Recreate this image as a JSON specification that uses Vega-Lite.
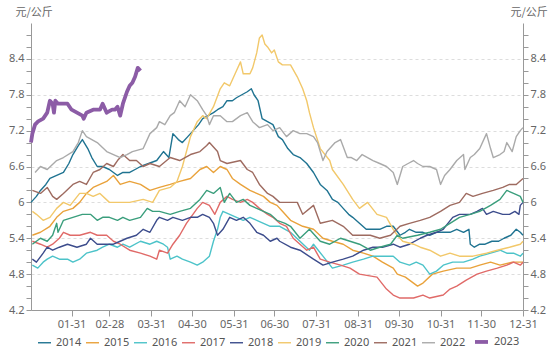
{
"$schema":"https://vega.github.io/schema/vega-lite/v6.json",
"width":492,"height":287,
"autosize":{"type":"none"},
"padding":{"left":31,"top":23,"right":27,"bottom":39},
"config":{"view":{"stroke":null},"font":"Noto Sans","axis":{"labelFont":"Noto Sans","titleFont":"Noto Sans CJK SC"}},
"data":{"values":[
{"t":"2023-01-01","s":"2014","v":6.0},{"t":"2023-01-05","s":"2014","v":6.1},{"t":"2023-01-08","s":"2014","v":6.2},{"t":"2023-01-12","s":"2014","v":6.3},{"t":"2023-01-15","s":"2014","v":6.4},{"t":"2023-01-20","s":"2014","v":6.45},{"t":"2023-01-25","s":"2014","v":6.5},{"t":"2023-01-29","s":"2014","v":6.65},{"t":"2023-02-01","s":"2014","v":6.8},{"t":"2023-02-05","s":"2014","v":6.95},{"t":"2023-02-08","s":"2014","v":7.05},{"t":"2023-02-12","s":"2014","v":6.9},{"t":"2023-02-15","s":"2014","v":6.75},{"t":"2023-02-19","s":"2014","v":6.6},{"t":"2023-02-23","s":"2014","v":6.6},{"t":"2023-02-28","s":"2014","v":6.55},{"t":"2023-03-06","s":"2014","v":6.45},{"t":"2023-03-10","s":"2014","v":6.5},{"t":"2023-03-15","s":"2014","v":6.5},{"t":"2023-03-19","s":"2014","v":6.55},{"t":"2023-03-23","s":"2014","v":6.6},{"t":"2023-03-29","s":"2014","v":6.65},{"t":"2023-04-04","s":"2014","v":6.7},{"t":"2023-04-09","s":"2014","v":6.85},{"t":"2023-04-13","s":"2014","v":6.75},{"t":"2023-04-16","s":"2014","v":7.15},{"t":"2023-04-20","s":"2014","v":7.05},{"t":"2023-04-23","s":"2014","v":7.0},{"t":"2023-04-27","s":"2014","v":7.1},{"t":"2023-05-01","s":"2014","v":7.2},{"t":"2023-05-05","s":"2014","v":7.3},{"t":"2023-05-08","s":"2014","v":7.4},{"t":"2023-05-12","s":"2014","v":7.45},{"t":"2023-05-16","s":"2014","v":7.5},{"t":"2023-05-19","s":"2014","v":7.55},{"t":"2023-05-23","s":"2014","v":7.6},{"t":"2023-05-26","s":"2014","v":7.7},{"t":"2023-05-30","s":"2014","v":7.7},{"t":"2023-06-02","s":"2014","v":7.75},{"t":"2023-06-06","s":"2014","v":7.8},{"t":"2023-06-10","s":"2014","v":7.85},{"t":"2023-06-13","s":"2014","v":7.9},{"t":"2023-06-15","s":"2014","v":7.8},{"t":"2023-06-18","s":"2014","v":7.7},{"t":"2023-06-21","s":"2014","v":7.4},{"t":"2023-06-25","s":"2014","v":7.35},{"t":"2023-06-29","s":"2014","v":7.3},{"t":"2023-07-03","s":"2014","v":7.1},{"t":"2023-07-06","s":"2014","v":7.05},{"t":"2023-07-10","s":"2014","v":6.9},{"t":"2023-07-14","s":"2014","v":6.8},{"t":"2023-07-19","s":"2014","v":6.75},{"t":"2023-07-24","s":"2014","v":6.65},{"t":"2023-07-29","s":"2014","v":6.5},{"t":"2023-08-03","s":"2014","v":6.3},{"t":"2023-08-08","s":"2014","v":6.2},{"t":"2023-08-12","s":"2014","v":6.05},{"t":"2023-08-16","s":"2014","v":6.0},{"t":"2023-08-20","s":"2014","v":5.9},{"t":"2023-08-24","s":"2014","v":5.8},{"t":"2023-08-27","s":"2014","v":5.75},{"t":"2023-09-01","s":"2014","v":5.65},{"t":"2023-09-06","s":"2014","v":5.55},{"t":"2023-09-11","s":"2014","v":5.55},{"t":"2023-09-16","s":"2014","v":5.55},{"t":"2023-09-21","s":"2014","v":5.6},{"t":"2023-09-26","s":"2014","v":5.6},{"t":"2023-10-01","s":"2014","v":5.45},{"t":"2023-10-05","s":"2014","v":5.5},{"t":"2023-10-08","s":"2014","v":5.55},{"t":"2023-10-13","s":"2014","v":5.5},{"t":"2023-10-18","s":"2014","v":5.5},{"t":"2023-10-23","s":"2014","v":5.45},{"t":"2023-10-28","s":"2014","v":5.5},{"t":"2023-11-02","s":"2014","v":5.5},{"t":"2023-11-07","s":"2014","v":5.5},{"t":"2023-11-12","s":"2014","v":5.55},{"t":"2023-11-17","s":"2014","v":5.5},{"t":"2023-11-21","s":"2014","v":5.55},{"t":"2023-11-22","s":"2014","v":5.3},{"t":"2023-11-25","s":"2014","v":5.25},{"t":"2023-11-29","s":"2014","v":5.3},{"t":"2023-12-03","s":"2014","v":5.3},{"t":"2023-12-08","s":"2014","v":5.35},{"t":"2023-12-13","s":"2014","v":5.35},{"t":"2023-12-17","s":"2014","v":5.4},{"t":"2023-12-22","s":"2014","v":5.45},{"t":"2023-12-26","s":"2014","v":5.55},{"t":"2023-12-29","s":"2014","v":5.5},{"t":"2023-12-31","s":"2014","v":5.45},
{"t":"2023-01-02","s":"2015","v":5.45},{"t":"2023-01-08","s":"2015","v":5.5},{"t":"2023-01-15","s":"2015","v":5.6},{"t":"2023-01-20","s":"2015","v":5.75},{"t":"2023-01-25","s":"2015","v":5.85},{"t":"2023-02-01","s":"2015","v":5.9},{"t":"2023-02-06","s":"2015","v":6.0},{"t":"2023-02-11","s":"2015","v":6.15},{"t":"2023-02-16","s":"2015","v":6.25},{"t":"2023-02-21","s":"2015","v":6.3},{"t":"2023-02-26","s":"2015","v":6.35},{"t":"2023-03-03","s":"2015","v":6.45},{"t":"2023-03-08","s":"2015","v":6.3},{"t":"2023-03-15","s":"2015","v":6.35},{"t":"2023-03-23","s":"2015","v":6.3},{"t":"2023-03-30","s":"2015","v":6.2},{"t":"2023-04-06","s":"2015","v":6.25},{"t":"2023-04-14","s":"2015","v":6.3},{"t":"2023-04-21","s":"2015","v":6.35},{"t":"2023-04-29","s":"2015","v":6.4},{"t":"2023-05-06","s":"2015","v":6.55},{"t":"2023-05-11","s":"2015","v":6.6},{"t":"2023-05-16","s":"2015","v":6.5},{"t":"2023-05-21","s":"2015","v":6.6},{"t":"2023-05-26","s":"2015","v":6.55},{"t":"2023-05-30","s":"2015","v":6.4},{"t":"2023-06-05","s":"2015","v":6.3},{"t":"2023-06-12","s":"2015","v":6.2},{"t":"2023-06-17","s":"2015","v":6.15},{"t":"2023-06-22","s":"2015","v":6.1},{"t":"2023-06-27","s":"2015","v":6.0},{"t":"2023-07-02","s":"2015","v":5.95},{"t":"2023-07-06","s":"2015","v":5.85},{"t":"2023-07-12","s":"2015","v":5.7},{"t":"2023-07-21","s":"2015","v":5.6},{"t":"2023-07-29","s":"2015","v":5.55},{"t":"2023-08-05","s":"2015","v":5.4},{"t":"2023-08-12","s":"2015","v":5.35},{"t":"2023-08-20","s":"2015","v":5.3},{"t":"2023-08-27","s":"2015","v":5.2},{"t":"2023-09-04","s":"2015","v":5.15},{"t":"2023-09-11","s":"2015","v":5.1},{"t":"2023-09-18","s":"2015","v":5.0},{"t":"2023-09-26","s":"2015","v":4.9},{"t":"2023-09-29","s":"2015","v":4.8},{"t":"2023-10-05","s":"2015","v":4.75},{"t":"2023-10-08","s":"2015","v":4.7},{"t":"2023-10-14","s":"2015","v":4.6},{"t":"2023-10-18","s":"2015","v":4.65},{"t":"2023-10-25","s":"2015","v":4.8},{"t":"2023-11-02","s":"2015","v":4.85},{"t":"2023-11-12","s":"2015","v":4.9},{"t":"2023-11-22","s":"2015","v":4.9},{"t":"2023-11-29","s":"2015","v":4.95},{"t":"2023-12-07","s":"2015","v":5.0},{"t":"2023-12-14","s":"2015","v":4.95},{"t":"2023-12-23","s":"2015","v":5.0},{"t":"2023-12-31","s":"2015","v":5.0},
{"t":"2023-01-02","s":"2016","v":4.95},{"t":"2023-01-06","s":"2016","v":4.9},{"t":"2023-01-10","s":"2016","v":5.0},{"t":"2023-01-13","s":"2016","v":5.05},{"t":"2023-01-17","s":"2016","v":5.1},{"t":"2023-01-22","s":"2016","v":5.05},{"t":"2023-01-28","s":"2016","v":5.05},{"t":"2023-02-01","s":"2016","v":5.0},{"t":"2023-02-06","s":"2016","v":5.05},{"t":"2023-02-11","s":"2016","v":5.15},{"t":"2023-02-19","s":"2016","v":5.2},{"t":"2023-02-23","s":"2016","v":5.25},{"t":"2023-02-28","s":"2016","v":5.3},{"t":"2023-03-06","s":"2016","v":5.25},{"t":"2023-03-10","s":"2016","v":5.3},{"t":"2023-03-15","s":"2016","v":5.25},{"t":"2023-03-23","s":"2016","v":5.35},{"t":"2023-03-30","s":"2016","v":5.3},{"t":"2023-04-04","s":"2016","v":5.35},{"t":"2023-04-09","s":"2016","v":5.3},{"t":"2023-04-12","s":"2016","v":5.25},{"t":"2023-04-14","s":"2016","v":5.05},{"t":"2023-04-19","s":"2016","v":5.1},{"t":"2023-04-23","s":"2016","v":5.05},{"t":"2023-04-29","s":"2016","v":5.0},{"t":"2023-05-04","s":"2016","v":4.95},{"t":"2023-05-08","s":"2016","v":5.0},{"t":"2023-05-13","s":"2016","v":5.1},{"t":"2023-05-16","s":"2016","v":5.35},{"t":"2023-05-19","s":"2016","v":5.55},{"t":"2023-05-21","s":"2016","v":5.75},{"t":"2023-05-23","s":"2016","v":5.85},{"t":"2023-05-28","s":"2016","v":5.8},{"t":"2023-06-02","s":"2016","v":5.75},{"t":"2023-06-07","s":"2016","v":5.7},{"t":"2023-06-12","s":"2016","v":5.75},{"t":"2023-06-17","s":"2016","v":5.7},{"t":"2023-06-22","s":"2016","v":5.65},{"t":"2023-06-27","s":"2016","v":5.6},{"t":"2023-07-04","s":"2016","v":5.6},{"t":"2023-07-12","s":"2016","v":5.5},{"t":"2023-07-19","s":"2016","v":5.35},{"t":"2023-07-26","s":"2016","v":5.2},{"t":"2023-07-29","s":"2016","v":5.3},{"t":"2023-08-05","s":"2016","v":5.1},{"t":"2023-08-12","s":"2016","v":4.9},{"t":"2023-08-20","s":"2016","v":4.95},{"t":"2023-08-27","s":"2016","v":5.0},{"t":"2023-09-04","s":"2016","v":5.05},{"t":"2023-09-11","s":"2016","v":5.1},{"t":"2023-09-18","s":"2016","v":5.1},{"t":"2023-09-26","s":"2016","v":5.1},{"t":"2023-10-01","s":"2016","v":5.0},{"t":"2023-10-08","s":"2016","v":4.95},{"t":"2023-10-13","s":"2016","v":5.0},{"t":"2023-10-18","s":"2016","v":4.95},{"t":"2023-10-23","s":"2016","v":4.8},{"t":"2023-10-28","s":"2016","v":4.85},{"t":"2023-11-02","s":"2016","v":4.95},{"t":"2023-11-09","s":"2016","v":5.0},{"t":"2023-11-17","s":"2016","v":5.0},{"t":"2023-11-24","s":"2016","v":5.05},{"t":"2023-11-29","s":"2016","v":5.1},{"t":"2023-12-07","s":"2016","v":5.15},{"t":"2023-12-14","s":"2016","v":5.2},{"t":"2023-12-19","s":"2016","v":5.15},{"t":"2023-12-24","s":"2016","v":5.15},{"t":"2023-12-29","s":"2016","v":5.1},{"t":"2023-12-31","s":"2016","v":5.15},
{"t":"2023-01-02","s":"2017","v":5.35},{"t":"2023-01-08","s":"2017","v":5.3},{"t":"2023-01-13","s":"2017","v":5.25},{"t":"2023-01-17","s":"2017","v":5.3},{"t":"2023-01-22","s":"2017","v":5.4},{"t":"2023-01-25","s":"2017","v":5.5},{"t":"2023-01-30","s":"2017","v":5.45},{"t":"2023-02-06","s":"2017","v":5.45},{"t":"2023-02-14","s":"2017","v":5.5},{"t":"2023-02-19","s":"2017","v":5.45},{"t":"2023-02-26","s":"2017","v":5.45},{"t":"2023-03-03","s":"2017","v":5.35},{"t":"2023-03-08","s":"2017","v":5.3},{"t":"2023-03-15","s":"2017","v":5.2},{"t":"2023-03-23","s":"2017","v":5.15},{"t":"2023-03-30","s":"2017","v":5.1},{"t":"2023-04-04","s":"2017","v":5.05},{"t":"2023-04-06","s":"2017","v":5.2},{"t":"2023-04-12","s":"2017","v":5.15},{"t":"2023-04-16","s":"2017","v":5.3},{"t":"2023-04-21","s":"2017","v":5.45},{"t":"2023-04-26","s":"2017","v":5.65},{"t":"2023-05-04","s":"2017","v":5.9},{"t":"2023-05-08","s":"2017","v":6.0},{"t":"2023-05-13","s":"2017","v":5.95},{"t":"2023-05-17","s":"2017","v":5.8},{"t":"2023-05-21","s":"2017","v":6.0},{"t":"2023-05-26","s":"2017","v":6.1},{"t":"2023-05-30","s":"2017","v":6.05},{"t":"2023-06-05","s":"2017","v":6.0},{"t":"2023-06-10","s":"2017","v":6.05},{"t":"2023-06-14","s":"2017","v":6.0},{"t":"2023-06-19","s":"2017","v":5.9},{"t":"2023-06-25","s":"2017","v":5.8},{"t":"2023-06-29","s":"2017","v":5.75},{"t":"2023-07-04","s":"2017","v":5.65},{"t":"2023-07-09","s":"2017","v":5.6},{"t":"2023-07-14","s":"2017","v":5.4},{"t":"2023-07-19","s":"2017","v":5.3},{"t":"2023-07-24","s":"2017","v":5.2},{"t":"2023-07-29","s":"2017","v":5.25},{"t":"2023-08-03","s":"2017","v":5.05},{"t":"2023-08-10","s":"2017","v":5.0},{"t":"2023-08-18","s":"2017","v":4.95},{"t":"2023-08-25","s":"2017","v":4.9},{"t":"2023-09-01","s":"2017","v":4.8},{"t":"2023-09-14","s":"2017","v":4.75},{"t":"2023-09-21","s":"2017","v":4.55},{"t":"2023-09-26","s":"2017","v":4.45},{"t":"2023-10-01","s":"2017","v":4.4},{"t":"2023-10-11","s":"2017","v":4.4},{"t":"2023-10-18","s":"2017","v":4.45},{"t":"2023-10-23","s":"2017","v":4.4},{"t":"2023-11-02","s":"2017","v":4.45},{"t":"2023-11-07","s":"2017","v":4.55},{"t":"2023-11-12","s":"2017","v":4.6},{"t":"2023-11-19","s":"2017","v":4.7},{"t":"2023-11-27","s":"2017","v":4.8},{"t":"2023-12-04","s":"2017","v":4.85},{"t":"2023-12-12","s":"2017","v":4.9},{"t":"2023-12-19","s":"2017","v":4.95},{"t":"2023-12-24","s":"2017","v":5.0},{"t":"2023-12-29","s":"2017","v":4.95},{"t":"2023-12-31","s":"2017","v":5.0},
{"t":"2023-01-02","s":"2018","v":5.05},{"t":"2023-01-05","s":"2018","v":5.0},{"t":"2023-01-10","s":"2018","v":5.15},{"t":"2023-01-13","s":"2018","v":5.25},{"t":"2023-01-17","s":"2018","v":5.2},{"t":"2023-01-22","s":"2018","v":5.25},{"t":"2023-01-28","s":"2018","v":5.3},{"t":"2023-02-04","s":"2018","v":5.25},{"t":"2023-02-11","s":"2018","v":5.3},{"t":"2023-02-14","s":"2018","v":5.4},{"t":"2023-02-19","s":"2018","v":5.3},{"t":"2023-02-23","s":"2018","v":5.3},{"t":"2023-03-03","s":"2018","v":5.3},{"t":"2023-03-08","s":"2018","v":5.35},{"t":"2023-03-13","s":"2018","v":5.4},{"t":"2023-03-20","s":"2018","v":5.45},{"t":"2023-03-25","s":"2018","v":5.55},{"t":"2023-03-30","s":"2018","v":5.5},{"t":"2023-04-04","s":"2018","v":5.7},{"t":"2023-04-06","s":"2018","v":5.75},{"t":"2023-04-12","s":"2018","v":5.7},{"t":"2023-04-16","s":"2018","v":5.75},{"t":"2023-04-23","s":"2018","v":5.7},{"t":"2023-04-29","s":"2018","v":5.75},{"t":"2023-05-04","s":"2018","v":5.75},{"t":"2023-05-08","s":"2018","v":5.8},{"t":"2023-05-13","s":"2018","v":5.75},{"t":"2023-05-16","s":"2018","v":5.65},{"t":"2023-05-19","s":"2018","v":5.45},{"t":"2023-05-23","s":"2018","v":5.55},{"t":"2023-05-28","s":"2018","v":5.75},{"t":"2023-06-02","s":"2018","v":5.7},{"t":"2023-06-07","s":"2018","v":5.75},{"t":"2023-06-12","s":"2018","v":5.65},{"t":"2023-06-17","s":"2018","v":5.5},{"t":"2023-06-22","s":"2018","v":5.45},{"t":"2023-06-27","s":"2018","v":5.35},{"t":"2023-07-02","s":"2018","v":5.4},{"t":"2023-07-04","s":"2018","v":5.35},{"t":"2023-07-12","s":"2018","v":5.25},{"t":"2023-07-19","s":"2018","v":5.2},{"t":"2023-07-29","s":"2018","v":5.05},{"t":"2023-08-05","s":"2018","v":4.95},{"t":"2023-08-12","s":"2018","v":5.0},{"t":"2023-08-20","s":"2018","v":5.05},{"t":"2023-08-27","s":"2018","v":5.1},{"t":"2023-09-04","s":"2018","v":5.2},{"t":"2023-09-11","s":"2018","v":5.25},{"t":"2023-09-18","s":"2018","v":5.25},{"t":"2023-09-26","s":"2018","v":5.3},{"t":"2023-10-01","s":"2018","v":5.25},{"t":"2023-10-08","s":"2018","v":5.3},{"t":"2023-10-16","s":"2018","v":5.4},{"t":"2023-10-21","s":"2018","v":5.45},{"t":"2023-10-28","s":"2018","v":5.5},{"t":"2023-11-02","s":"2018","v":5.55},{"t":"2023-11-09","s":"2018","v":5.75},{"t":"2023-11-14","s":"2018","v":5.8},{"t":"2023-11-22","s":"2018","v":5.8},{"t":"2023-11-27","s":"2018","v":5.85},{"t":"2023-12-01","s":"2018","v":5.9},{"t":"2023-12-04","s":"2018","v":5.8},{"t":"2023-12-09","s":"2018","v":5.85},{"t":"2023-12-16","s":"2018","v":5.8},{"t":"2023-12-21","s":"2018","v":5.8},{"t":"2023-12-25","s":"2018","v":5.85},{"t":"2023-12-28","s":"2018","v":5.8},{"t":"2023-12-29","s":"2018","v":5.95},{"t":"2023-12-31","s":"2018","v":6.0},
{"t":"2023-01-02","s":"2019","v":5.85},{"t":"2023-01-05","s":"2019","v":5.8},{"t":"2023-01-10","s":"2019","v":5.7},{"t":"2023-01-15","s":"2019","v":5.75},{"t":"2023-01-20","s":"2019","v":5.9},{"t":"2023-01-25","s":"2019","v":6.0},{"t":"2023-01-30","s":"2019","v":5.95},{"t":"2023-02-06","s":"2019","v":6.15},{"t":"2023-02-11","s":"2019","v":6.15},{"t":"2023-02-16","s":"2019","v":6.1},{"t":"2023-02-21","s":"2019","v":6.15},{"t":"2023-02-28","s":"2019","v":6.0},{"t":"2023-03-08","s":"2019","v":6.0},{"t":"2023-03-15","s":"2019","v":6.0},{"t":"2023-03-25","s":"2019","v":6.05},{"t":"2023-04-01","s":"2019","v":6.0},{"t":"2023-04-06","s":"2019","v":6.2},{"t":"2023-04-14","s":"2019","v":6.25},{"t":"2023-04-19","s":"2019","v":6.35},{"t":"2023-04-23","s":"2019","v":6.6},{"t":"2023-04-29","s":"2019","v":7.1},{"t":"2023-05-04","s":"2019","v":7.35},{"t":"2023-05-08","s":"2019","v":7.45},{"t":"2023-05-11","s":"2019","v":7.4},{"t":"2023-05-16","s":"2019","v":7.6},{"t":"2023-05-21","s":"2019","v":7.9},{"t":"2023-05-24","s":"2019","v":8.0},{"t":"2023-05-28","s":"2019","v":7.95},{"t":"2023-06-02","s":"2019","v":8.2},{"t":"2023-06-05","s":"2019","v":8.35},{"t":"2023-06-07","s":"2019","v":8.15},{"t":"2023-06-12","s":"2019","v":8.15},{"t":"2023-06-14","s":"2019","v":8.25},{"t":"2023-06-17","s":"2019","v":8.5},{"t":"2023-06-19","s":"2019","v":8.75},{"t":"2023-06-21","s":"2019","v":8.8},{"t":"2023-06-23","s":"2019","v":8.65},{"t":"2023-06-25","s":"2019","v":8.6},{"t":"2023-06-28","s":"2019","v":8.5},{"t":"2023-06-30","s":"2019","v":8.55},{"t":"2023-07-03","s":"2019","v":8.35},{"t":"2023-07-06","s":"2019","v":8.3},{"t":"2023-07-12","s":"2019","v":8.3},{"t":"2023-07-17","s":"2019","v":8.1},{"t":"2023-07-21","s":"2019","v":7.9},{"t":"2023-07-24","s":"2019","v":7.7},{"t":"2023-07-26","s":"2019","v":7.5},{"t":"2023-07-29","s":"2019","v":7.25},{"t":"2023-08-03","s":"2019","v":6.9},{"t":"2023-08-10","s":"2019","v":6.7},{"t":"2023-08-12","s":"2019","v":6.55},{"t":"2023-08-20","s":"2019","v":6.3},{"t":"2023-08-27","s":"2019","v":6.05},{"t":"2023-09-01","s":"2019","v":5.9},{"t":"2023-09-07","s":"2019","v":6.0},{"t":"2023-09-14","s":"2019","v":5.8},{"t":"2023-09-21","s":"2019","v":5.75},{"t":"2023-09-26","s":"2019","v":5.55},{"t":"2023-09-29","s":"2019","v":5.45},{"t":"2023-10-03","s":"2019","v":5.35},{"t":"2023-10-11","s":"2019","v":5.3},{"t":"2023-10-16","s":"2019","v":5.25},{"t":"2023-10-23","s":"2019","v":5.2},{"t":"2023-10-31","s":"2019","v":5.1},{"t":"2023-11-07","s":"2019","v":5.15},{"t":"2023-11-14","s":"2019","v":5.1},{"t":"2023-11-24","s":"2019","v":5.1},{"t":"2023-12-04","s":"2019","v":5.15},{"t":"2023-12-12","s":"2019","v":5.2},{"t":"2023-12-21","s":"2019","v":5.25},{"t":"2023-12-29","s":"2019","v":5.3},{"t":"2023-12-31","s":"2019","v":5.35},
{"t":"2023-01-02","s":"2020","v":5.3},{"t":"2023-01-08","s":"2020","v":5.4},{"t":"2023-01-13","s":"2020","v":5.35},{"t":"2023-01-17","s":"2020","v":5.45},{"t":"2023-01-20","s":"2020","v":5.65},{"t":"2023-01-21","s":"2020","v":5.5},{"t":"2023-01-25","s":"2020","v":5.7},{"t":"2023-02-01","s":"2020","v":5.75},{"t":"2023-02-08","s":"2020","v":5.8},{"t":"2023-02-14","s":"2020","v":5.8},{"t":"2023-02-19","s":"2020","v":5.7},{"t":"2023-02-23","s":"2020","v":5.75},{"t":"2023-02-28","s":"2020","v":5.75},{"t":"2023-03-06","s":"2020","v":5.7},{"t":"2023-03-10","s":"2020","v":5.75},{"t":"2023-03-15","s":"2020","v":5.7},{"t":"2023-03-23","s":"2020","v":5.75},{"t":"2023-03-28","s":"2020","v":5.9},{"t":"2023-04-01","s":"2020","v":5.85},{"t":"2023-04-06","s":"2020","v":5.85},{"t":"2023-04-14","s":"2020","v":5.8},{"t":"2023-04-21","s":"2020","v":5.85},{"t":"2023-04-29","s":"2020","v":5.9},{"t":"2023-05-06","s":"2020","v":6.05},{"t":"2023-05-11","s":"2020","v":6.2},{"t":"2023-05-16","s":"2020","v":6.15},{"t":"2023-05-21","s":"2020","v":6.25},{"t":"2023-05-24","s":"2020","v":6.0},{"t":"2023-05-28","s":"2020","v":6.15},{"t":"2023-06-02","s":"2020","v":6.0},{"t":"2023-06-07","s":"2020","v":6.05},{"t":"2023-06-12","s":"2020","v":5.95},{"t":"2023-06-17","s":"2020","v":5.9},{"t":"2023-06-22","s":"2020","v":5.85},{"t":"2023-06-27","s":"2020","v":5.8},{"t":"2023-07-02","s":"2020","v":5.7},{"t":"2023-07-08","s":"2020","v":5.65},{"t":"2023-07-12","s":"2020","v":5.6},{"t":"2023-07-19","s":"2020","v":5.4},{"t":"2023-07-26","s":"2020","v":5.55},{"t":"2023-08-03","s":"2020","v":5.35},{"t":"2023-08-10","s":"2020","v":5.3},{"t":"2023-08-18","s":"2020","v":5.4},{"t":"2023-08-25","s":"2020","v":5.35},{"t":"2023-09-01","s":"2020","v":5.3},{"t":"2023-09-09","s":"2020","v":5.2},{"t":"2023-09-16","s":"2020","v":5.25},{"t":"2023-09-24","s":"2020","v":5.3},{"t":"2023-09-29","s":"2020","v":5.45},{"t":"2023-10-03","s":"2020","v":5.4},{"t":"2023-10-14","s":"2020","v":5.45},{"t":"2023-10-23","s":"2020","v":5.5},{"t":"2023-10-31","s":"2020","v":5.55},{"t":"2023-11-07","s":"2020","v":5.65},{"t":"2023-11-14","s":"2020","v":5.75},{"t":"2023-11-22","s":"2020","v":5.8},{"t":"2023-11-29","s":"2020","v":5.85},{"t":"2023-12-07","s":"2020","v":5.95},{"t":"2023-12-14","s":"2020","v":6.05},{"t":"2023-12-19","s":"2020","v":6.2},{"t":"2023-12-24","s":"2020","v":6.15},{"t":"2023-12-29","s":"2020","v":6.1},{"t":"2023-12-31","s":"2020","v":6.0},
{"t":"2023-01-02","s":"2021","v":6.2},{"t":"2023-01-08","s":"2021","v":6.15},{"t":"2023-01-13","s":"2021","v":6.25},{"t":"2023-01-17","s":"2021","v":6.1},{"t":"2023-01-20","s":"2021","v":6.05},{"t":"2023-01-25","s":"2021","v":6.15},{"t":"2023-02-01","s":"2021","v":6.3},{"t":"2023-02-06","s":"2021","v":6.35},{"t":"2023-02-11","s":"2021","v":6.3},{"t":"2023-02-16","s":"2021","v":6.5},{"t":"2023-02-21","s":"2021","v":6.55},{"t":"2023-02-26","s":"2021","v":6.65},{"t":"2023-03-03","s":"2021","v":6.6},{"t":"2023-03-06","s":"2021","v":6.7},{"t":"2023-03-10","s":"2021","v":6.8},{"t":"2023-03-15","s":"2021","v":6.7},{"t":"2023-03-20","s":"2021","v":6.7},{"t":"2023-03-25","s":"2021","v":6.6},{"t":"2023-03-30","s":"2021","v":6.65},{"t":"2023-04-06","s":"2021","v":6.6},{"t":"2023-04-14","s":"2021","v":6.75},{"t":"2023-04-21","s":"2021","v":6.7},{"t":"2023-04-29","s":"2021","v":6.8},{"t":"2023-05-06","s":"2021","v":6.85},{"t":"2023-05-11","s":"2021","v":6.95},{"t":"2023-05-13","s":"2021","v":7.0},{"t":"2023-05-19","s":"2021","v":6.85},{"t":"2023-05-21","s":"2021","v":6.7},{"t":"2023-05-26","s":"2021","v":6.65},{"t":"2023-06-05","s":"2021","v":6.7},{"t":"2023-06-10","s":"2021","v":6.55},{"t":"2023-06-14","s":"2021","v":6.5},{"t":"2023-06-19","s":"2021","v":6.3},{"t":"2023-06-25","s":"2021","v":6.15},{"t":"2023-06-29","s":"2021","v":6.1},{"t":"2023-07-04","s":"2021","v":6.0},{"t":"2023-07-09","s":"2021","v":6.0},{"t":"2023-07-17","s":"2021","v":6.0},{"t":"2023-07-21","s":"2021","v":5.8},{"t":"2023-07-29","s":"2021","v":5.95},{"t":"2023-08-03","s":"2021","v":5.65},{"t":"2023-08-12","s":"2021","v":5.7},{"t":"2023-08-20","s":"2021","v":5.6},{"t":"2023-08-27","s":"2021","v":5.45},{"t":"2023-09-01","s":"2021","v":5.45},{"t":"2023-09-09","s":"2021","v":5.45},{"t":"2023-09-16","s":"2021","v":5.4},{"t":"2023-09-24","s":"2021","v":5.45},{"t":"2023-10-01","s":"2021","v":5.6},{"t":"2023-10-08","s":"2021","v":5.65},{"t":"2023-10-16","s":"2021","v":5.7},{"t":"2023-10-23","s":"2021","v":5.75},{"t":"2023-10-31","s":"2021","v":5.85},{"t":"2023-11-07","s":"2021","v":5.95},{"t":"2023-11-14","s":"2021","v":6.0},{"t":"2023-11-19","s":"2021","v":6.15},{"t":"2023-11-24","s":"2021","v":6.1},{"t":"2023-12-01","s":"2021","v":6.15},{"t":"2023-12-09","s":"2021","v":6.2},{"t":"2023-12-16","s":"2021","v":6.25},{"t":"2023-12-21","s":"2021","v":6.3},{"t":"2023-12-26","s":"2021","v":6.3},{"t":"2023-12-31","s":"2021","v":6.4},
{"t":"2023-01-04","s":"2022","v":6.5},{"t":"2023-01-08","s":"2022","v":6.6},{"t":"2023-01-13","s":"2022","v":6.55},{"t":"2023-01-20","s":"2022","v":6.7},{"t":"2023-01-25","s":"2022","v":6.75},{"t":"2023-02-01","s":"2022","v":6.85},{"t":"2023-02-05","s":"2022","v":7.0},{"t":"2023-02-08","s":"2022","v":7.2},{"t":"2023-02-11","s":"2022","v":7.1},{"t":"2023-02-15","s":"2022","v":7.05},{"t":"2023-02-19","s":"2022","v":7.0},{"t":"2023-02-26","s":"2022","v":6.85},{"t":"2023-03-03","s":"2022","v":6.8},{"t":"2023-03-08","s":"2022","v":6.75},{"t":"2023-03-13","s":"2022","v":6.8},{"t":"2023-03-17","s":"2022","v":6.85},{"t":"2023-03-25","s":"2022","v":6.9},{"t":"2023-03-30","s":"2022","v":7.15},{"t":"2023-04-04","s":"2022","v":7.25},{"t":"2023-04-06","s":"2022","v":7.35},{"t":"2023-04-10","s":"2022","v":7.3},{"t":"2023-04-14","s":"2022","v":7.45},{"t":"2023-04-17","s":"2022","v":7.5},{"t":"2023-04-21","s":"2022","v":7.7},{"t":"2023-04-25","s":"2022","v":7.6},{"t":"2023-04-29","s":"2022","v":7.8},{"t":"2023-05-04","s":"2022","v":7.7},{"t":"2023-05-08","s":"2022","v":7.55},{"t":"2023-05-11","s":"2022","v":7.45},{"t":"2023-05-13","s":"2022","v":7.3},{"t":"2023-05-16","s":"2022","v":7.45},{"t":"2023-05-21","s":"2022","v":7.45},{"t":"2023-05-26","s":"2022","v":7.35},{"t":"2023-05-30","s":"2022","v":7.35},{"t":"2023-06-05","s":"2022","v":7.45},{"t":"2023-06-10","s":"2022","v":7.5},{"t":"2023-06-14","s":"2022","v":7.35},{"t":"2023-06-19","s":"2022","v":7.25},{"t":"2023-06-25","s":"2022","v":7.3},{"t":"2023-06-29","s":"2022","v":7.2},{"t":"2023-07-04","s":"2022","v":7.25},{"t":"2023-07-09","s":"2022","v":7.1},{"t":"2023-07-14","s":"2022","v":7.2},{"t":"2023-07-19","s":"2022","v":7.15},{"t":"2023-07-24","s":"2022","v":7.15},{"t":"2023-07-29","s":"2022","v":7.1},{"t":"2023-08-01","s":"2022","v":7.0},{"t":"2023-08-05","s":"2022","v":6.7},{"t":"2023-08-08","s":"2022","v":6.85},{"t":"2023-08-10","s":"2022","v":6.9},{"t":"2023-08-14","s":"2022","v":7.0},{"t":"2023-08-18","s":"2022","v":7.05},{"t":"2023-08-23","s":"2022","v":6.75},{"t":"2023-08-26","s":"2022","v":6.75},{"t":"2023-08-30","s":"2022","v":6.7},{"t":"2023-09-03","s":"2022","v":6.8},{"t":"2023-09-07","s":"2022","v":6.75},{"t":"2023-09-11","s":"2022","v":6.7},{"t":"2023-09-16","s":"2022","v":6.65},{"t":"2023-09-21","s":"2022","v":6.6},{"t":"2023-09-26","s":"2022","v":6.5},{"t":"2023-09-29","s":"2022","v":6.3},{"t":"2023-10-03","s":"2022","v":6.6},{"t":"2023-10-07","s":"2022","v":6.65},{"t":"2023-10-11","s":"2022","v":6.7},{"t":"2023-10-14","s":"2022","v":6.65},{"t":"2023-10-18","s":"2022","v":6.6},{"t":"2023-10-23","s":"2022","v":6.6},{"t":"2023-10-28","s":"2022","v":6.55},{"t":"2023-10-31","s":"2022","v":6.3},{"t":"2023-11-03","s":"2022","v":6.45},{"t":"2023-11-07","s":"2022","v":6.55},{"t":"2023-11-12","s":"2022","v":6.7},{"t":"2023-11-17","s":"2022","v":6.8},{"t":"2023-11-18","s":"2022","v":6.55},{"t":"2023-11-22","s":"2022","v":6.75},{"t":"2023-11-25","s":"2022","v":6.8},{"t":"2023-11-29","s":"2022","v":6.9},{"t":"2023-12-04","s":"2022","v":7.15},{"t":"2023-12-07","s":"2022","v":6.9},{"t":"2023-12-09","s":"2022","v":6.75},{"t":"2023-12-14","s":"2022","v":6.8},{"t":"2023-12-17","s":"2022","v":6.85},{"t":"2023-12-19","s":"2022","v":7.0},{"t":"2023-12-23","s":"2022","v":6.85},{"t":"2023-12-26","s":"2022","v":7.1},{"t":"2023-12-29","s":"2022","v":7.2},{"t":"2023-12-31","s":"2022","v":7.25},
{"t":"2023-01-01","s":"2023","v":7.0},{"t":"2023-01-02","s":"2023","v":7.15},{"t":"2023-01-04","s":"2023","v":7.3},{"t":"2023-01-06","s":"2023","v":7.35},{"t":"2023-01-10","s":"2023","v":7.4},{"t":"2023-01-13","s":"2023","v":7.5},{"t":"2023-01-15","s":"2023","v":7.7},{"t":"2023-01-17","s":"2023","v":7.65},{"t":"2023-01-18","s":"2023","v":7.5},{"t":"2023-01-19","s":"2023","v":7.7},{"t":"2023-01-21","s":"2023","v":7.65},{"t":"2023-01-25","s":"2023","v":7.65},{"t":"2023-01-28","s":"2023","v":7.65},{"t":"2023-01-31","s":"2023","v":7.55},{"t":"2023-02-04","s":"2023","v":7.5},{"t":"2023-02-08","s":"2023","v":7.45},{"t":"2023-02-09","s":"2023","v":7.4},{"t":"2023-02-11","s":"2023","v":7.5},{"t":"2023-02-16","s":"2023","v":7.55},{"t":"2023-02-21","s":"2023","v":7.55},{"t":"2023-02-23","s":"2023","v":7.65},{"t":"2023-02-26","s":"2023","v":7.5},{"t":"2023-03-02","s":"2023","v":7.55},{"t":"2023-03-04","s":"2023","v":7.55},{"t":"2023-03-06","s":"2023","v":7.6},{"t":"2023-03-08","s":"2023","v":7.45},{"t":"2023-03-10","s":"2023","v":7.65},{"t":"2023-03-13","s":"2023","v":7.85},{"t":"2023-03-15","s":"2023","v":7.95},{"t":"2023-03-17","s":"2023","v":8.0},{"t":"2023-03-19","s":"2023","v":8.1},{"t":"2023-03-21","s":"2023","v":8.25},{"t":"2023-03-23","s":"2023","v":8.2}
]},
"encoding":{
 "x":{"field":"t","type":"temporal","scale":{"type":"utc","domain":[{"year":2023,"month":1,"date":1,"utc":true},{"year":2023,"month":12,"date":31,"utc":true}]},
  "axis":{"title":null,"format":"%m-%d","values":[{"year":2023,"month":1,"date":31,"utc":true},{"year":2023,"month":2,"date":28,"utc":true},{"year":2023,"month":3,"date":31,"utc":true},{"year":2023,"month":4,"date":30,"utc":true},{"year":2023,"month":5,"date":31,"utc":true},{"year":2023,"month":6,"date":30,"utc":true},{"year":2023,"month":7,"date":31,"utc":true},{"year":2023,"month":8,"date":31,"utc":true},{"year":2023,"month":9,"date":30,"utc":true},{"year":2023,"month":10,"date":31,"utc":true},{"year":2023,"month":11,"date":30,"utc":true},{"year":2023,"month":12,"date":31,"utc":true}],
   "grid":false,"domainColor":"#999","tickColor":"#999","tickSize":6,"labelColor":"#666","labelFontSize":11,"labelPadding":2,"labelFlush":false,"labelOverlap":false}},
 "color":{"field":"s","type":"nominal","title":null,"scale":{"domain":["2014","2015","2016","2017","2018","2019","2020","2021","2022","2023"],"range":["#1f7391","#e9a23b","#4cc3c9","#e06a68","#3c4c8c","#f2c86a","#3a9e7c","#9e6b60","#aaaaaa","#8c5ca6"]},
  "legend":{"orient":"none","legendX":6,"legendY":310,"direction":"horizontal","symbolType":"stroke","symbolSize":169,"labelFontSize":11,"labelColor":"#555","columnPadding":1,"labelOffset":4}},
 "strokeWidth":{"field":"s","type":"nominal","title":null,"scale":{"type":"ordinal","domain":["2014","2015","2016","2017","2018","2019","2020","2021","2022","2023"],"range":[1.4,1.4,1.4,1.4,1.4,1.4,1.4,1.4,1.4,3.8]},
  "legend":{"orient":"none","legendX":6,"legendY":310,"direction":"horizontal","symbolType":"stroke","symbolSize":169,"labelFontSize":11,"labelColor":"#555","columnPadding":1,"labelOffset":4}}
},
"layer":[
 {"transform":[{"filter":"datum.s != '2023'"}],
  "mark":{"type":"line","strokeJoin":"round"},
  "encoding":{"y":{"field":"v","type":"quantitative","scale":{"domain":[4.2,9.0],"nice":false,"zero":false},
   "axis":{"orient":"left","title":"元/公斤","titleAngle":0,"titleX":-16,"titleY":-11,"titleAlign":"left","titleBaseline":"middle","titleFontSize":11,"titleFontWeight":"normal","titleColor":"#666",
    "values":[4.2,4.4,4.6,4.8,5.0,5.2,5.4,5.6,5.8,6.0,6.2,6.4,6.6,6.8,7.0,7.2,7.4,7.6,7.8,8.0,8.2,8.4,8.6,8.8],
    "labelExpr":"round((datum.value-4.2)*5) % 3 == 0 ? format(datum.value, '.1~f') : ''",
    "gridOpacity":{"condition":{"test":"round((datum.value-4.2)*5) % 3 == 0","value":1},"value":0},
    "gridColor":"#ddd","gridDash":[3,3],"domainColor":"#999","tickColor":"#999","tickSize":5,"labelColor":"#666","labelFontSize":11,"labelPadding":2}}}},
 {"transform":[{"filter":"datum.s == '2023'"}],
  "mark":{"type":"line","strokeJoin":"round"},
  "encoding":{"y":{"field":"v","type":"quantitative","scale":{"domain":[4.2,9.0],"nice":false,"zero":false},
   "axis":{"orient":"right","title":"元/公斤","titleAngle":0,"titleX":-13,"titleY":-11,"titleAlign":"left","titleBaseline":"middle","titleFontSize":11,"titleFontWeight":"normal","titleColor":"#666",
    "values":[4.2,4.4,4.6,4.8,5.0,5.2,5.4,5.6,5.8,6.0,6.2,6.4,6.6,6.8,7.0,7.2,7.4,7.6,7.8,8.0,8.2,8.4,8.6,8.8],
    "labelExpr":"round((datum.value-4.2)*5) % 3 == 0 ? format(datum.value, '.1~f') : ''",
    "grid":false,"domainColor":"#999","tickColor":"#999","tickSize":5,"labelColor":"#666","labelFontSize":11,"labelPadding":2}}}}
],
"resolve":{"axis":{"y":"independent"}}
}
